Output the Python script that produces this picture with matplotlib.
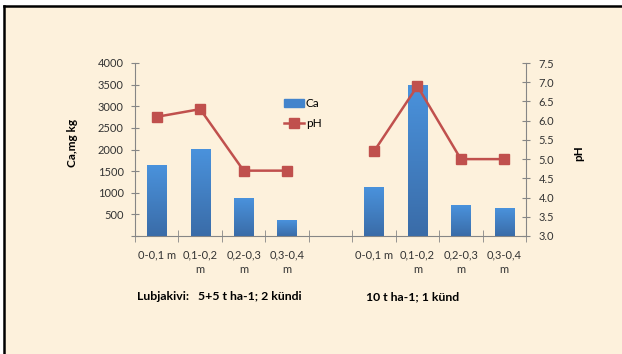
import numpy as np
import matplotlib.pyplot as plt
from matplotlib.lines import Line2D
from matplotlib.patches import Rectangle
from matplotlib.colors import LinearSegmentedColormap

plt.rcParams['font.family'] = ['Lato', 'DejaVu Sans']

# depth layers for the two liming treatments (empty slot between groups)
depths = ["0-0,1 m", "0,1-0,2\nm", "0,2-0,3\nm", "0,3-0,4\nm", "",
          "0-0,1 m", "0,1-0,2\nm", "0,2-0,3\nm", "0,3-0,4\nm"]
ca = [1640, 2000, 870, 360, np.nan, 1130, 3480, 710, 640]
ph = [6.1, 6.3, 4.7, 4.7, np.nan, 5.2, 6.9, 5.0, 5.0]
group1 = "Lubjakivi:   5+5 t ha-1; 2 kündi"
group2 = "10 t ha-1; 1 künd"

bg = "#fdf1dc"
grey = "#868686"
red = "#c0504d"

fig = plt.figure(figsize=(6.22, 3.54), dpi=100)
fig.patch.set_facecolor("white")
fig.patches.append(Rectangle((5 / 622, 0), 1, 1 - 6 / 354, transform=fig.transFigure,
                             facecolor=bg, edgecolor="none", zorder=-5))
fig.lines.append(Line2D([4.3 / 622, 1], [1 - 6 / 354] * 2, transform=fig.transFigure,
                        color="black", lw=1.8))
fig.lines.append(Line2D([4.3 / 622] * 2, [0, 1 - 6 / 354], transform=fig.transFigure,
                        color="black", lw=1.8))

ax = fig.add_axes([135 / 622, 1 - 236 / 354, 391 / 622, 173 / 354])
ax.set_facecolor("none")
x = np.arange(len(depths))
bars = ax.bar(x, np.nan_to_num(ca), width=0.44, color="#4384cc", zorder=2)

# vertical shading on each bar
cmap = LinearSegmentedColormap.from_list("ca", ["#3a6ca8", "#4a92dc"])
grad = np.linspace(0, 1, 100).reshape(-1, 1)
for b in bars:
    if b.get_height() > 0:
        ax.imshow(grad, cmap=cmap, origin="lower", aspect="auto", zorder=3,
                  extent=[b.get_x(), b.get_x() + b.get_width(), 0, b.get_height()])

ax.set_xlim(-0.5, len(depths) - 0.5)
ax.set_ylim(0, 4000)
ax.set_yticks(np.arange(0, 4001, 500))
ax.set_yticklabels([""] + [str(v) for v in range(500, 4001, 500)])
ax.set_xticks(x)
ax.set_xticklabels(depths, linespacing=1.35)
ax.set_xticks(np.arange(-0.5, len(depths)), minor=True)
ax.tick_params(axis="x", which="major", length=0, pad=10, labelsize=8, labelcolor="#333333")
ax.tick_params(axis="x", which="minor", direction="inout", length=8, color=grey)
ax.tick_params(axis="y", direction="inout", length=6, color=grey, labelsize=8,
               labelcolor="#333333", pad=5)
for s in ["top", "right"]:
    ax.spines[s].set_visible(False)
for s in ["left", "bottom"]:
    ax.spines[s].set_color(grey)
ax.set_ylabel("Ca,mg kg", fontsize=8.5, fontweight="bold")
ax.yaxis.set_label_coords(-0.146, 0.54)

ax2 = ax.twinx()
ax2.plot(x, ph, color=red, lw=1.8, marker="s", markersize=7, zorder=5)
ax2.set_ylim(3.0, 7.5)
ax2.set_yticks(np.arange(3.0, 7.51, 0.5))
ax2.set_yticklabels([f"{v:.1f}" for v in np.arange(3.0, 7.51, 0.5)])
ax2.tick_params(axis="y", direction="inout", length=6, color=grey, labelsize=8,
                labelcolor="#333333", pad=6)
for s in ["top", "left", "bottom"]:
    ax2.spines[s].set_visible(False)
ax2.spines["right"].set_color(grey)
ax2.set_ylabel("pH", fontsize=8.5, fontweight="bold")
ax2.yaxis.set_label_coords(1.12, 0.48)

handles = [Rectangle((0, 0), 1, 1, color="#4384cc"),
           Line2D([], [], color=red, lw=1.8, marker="s", markersize=7)]
ax2.legend(handles, ["Ca", "pH"], loc="upper left", bbox_to_anchor=(0.355, 0.86),
           frameon=False, fontsize=8.5, handlelength=1.7, handletextpad=0.1,
           labelspacing=0.75)

fig.text(137 / 622, 1 - 297 / 354, group1, fontsize=8.8, fontweight="bold", va="center")
fig.text(366 / 622, 1 - 297 / 354, group2, fontsize=8.8, fontweight="bold", va="center")

fig.savefig("out.png", dpi=100, facecolor=fig.get_facecolor())
